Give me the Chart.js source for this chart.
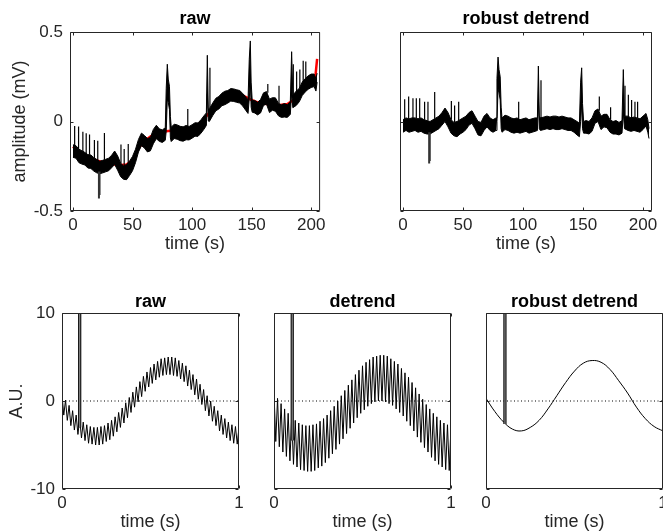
<!DOCTYPE html>
<html>
<head>
<meta charset="utf-8">
<title>raw vs robust detrend</title>
<script src="https://cdn.jsdelivr.net/npm/chart.js@4.4.1/dist/chart.umd.min.js"></script>
<style>
  html, body { margin: 0; padding: 0; background: #fff; overflow: hidden; }
  #fig { position: relative; width: 663px; height: 531px; overflow: hidden; }
  #fig canvas { position: absolute; }
</style>
</head>
<body>
<div id="fig">
  <canvas id="topRaw" width="330" height="258" style="left:0;top:0"></canvas>
  <canvas id="topRobust" width="333" height="258" style="left:330px;top:0"></canvas>
  <canvas id="auRaw" width="250" height="253" style="left:0;top:280px"></canvas>
  <canvas id="auDetrend" width="223" height="253" style="left:240px;top:280px"></canvas>
  <canvas id="auRobust" width="230" height="253" style="left:452px;top:280px"></canvas>
</div>
<script>
// ── Top row: recording, time in s, amplitude in mV ─────────────
var topT = [0, 2.5, 5, 7.5, 10, 12.5, 15, 17.5, 20, 22.5, 25, 27.5, 30, 32.5, 35, 37.5, 40, 42.5, 45, 47.5,
    50, 52.5, 55, 57.5, 60, 62.5, 65, 67.5, 70, 72.5, 75, 77.5, 78.3, 79.2, 80, 81, 81.8, 82.5, 85, 87.5,
    90, 92.5, 95, 97.5, 100, 102.5, 105, 107.5, 110, 112, 112.8, 113.6, 114.5, 117.5, 120, 122.5, 125, 127.5, 130, 132.5,
    135, 137.5, 140, 142.5, 145, 147, 148, 148.9, 149.6, 150.5, 152.5, 155, 157.5, 160, 162.5, 165, 167.5, 170, 172.5, 175,
    177.5, 180, 182.5, 183.6, 184.6, 187.5, 190, 192.5, 195, 197.5, 200, 202.5, 204, 205];

// upper / lower edge of the noisy band
var rawHi = [-0.13, -0.135, -0.155, -0.163, -0.173, -0.185, -0.187, -0.202, -0.212, -0.222, -0.217, -0.211, -0.205, -0.188, -0.165, -0.192, -0.233, -0.248, -0.24, -0.222,
    -0.195, -0.155, -0.1, -0.065, -0.078, -0.095, -0.089, -0.044, -0.021, -0.041, -0.047, -0.035, 0.186, 0.32, 0.237, 0.197, 0.028, -0.032, -0.015, -0.019,
    -0.027, -0.03, -0.022, -0.028, -0.018, -0.007, -0.008, 0.01, 0.032, 0.048, 0.37, 0.073, 0.07, 0.105, 0.13, 0.14, 0.158, 0.169, 0.173, 0.184,
    0.182, 0.177, 0.173, 0.157, 0.138, 0.12, 0.346, 0.45, 0.22, 0.117, 0.118, 0.107, 0.123, 0.16, 0.167, 0.125, 0.133, 0.132, 0.102, 0.093,
    0.1, 0.093, 0.11, 0.39, 0.147, 0.17, 0.185, 0.22, 0.24, 0.255, 0.265, 0.265, 0.24, 0.27];
var rawLo = [-0.2, -0.205, -0.23, -0.238, -0.243, -0.26, -0.262, -0.277, -0.287, -0.292, -0.287, -0.281, -0.275, -0.258, -0.24, -0.272, -0.308, -0.323, -0.325, -0.302,
    -0.275, -0.23, -0.17, -0.135, -0.148, -0.17, -0.164, -0.124, -0.096, -0.111, -0.117, -0.105, -0.054, 0.126, 0.107, 0.067, -0.092, -0.112, -0.095, -0.099,
    -0.107, -0.11, -0.102, -0.103, -0.093, -0.082, -0.083, -0.065, -0.043, -0.022, 0.155, 0.003, 0, 0.035, 0.06, 0.07, 0.088, 0.094, 0.103, 0.114,
    0.112, 0.107, 0.103, 0.087, 0.063, 0.045, 0.126, 0.222, 0.08, 0.052, 0.048, 0.037, 0.048, 0.09, 0.097, 0.05, 0.063, 0.057, 0.032, 0.023,
    0.025, 0.023, 0.04, 0.16, 0.077, 0.09, 0.11, 0.145, 0.165, 0.18, 0.19, 0.195, 0.17, 0.22];
var robustHi = [0.01, 0.02, 0.015, 0.02, 0.02, 0.015, 0.02, 0.01, 0.005, 0, 0.01, 0.02, 0.03, 0.05, 0.075, 0.05, 0.01, -0.005, 0, 0.01,
    0.02, 0.03, 0.05, 0.06, 0.03, 0, -0.005, 0.03, 0.045, 0.02, 0.01, 0.02, 0.24, 0.36, 0.29, 0.25, 0.08, 0.02, 0.035, 0.03,
    0.02, 0.015, 0.02, 0.01, 0.015, 0.02, 0.01, 0.015, 0.02, 0.02, 0.31, 0.03, 0.02, 0.025, 0.03, 0.025, 0.03, 0.03, 0.025, 0.03,
    0.025, 0.02, 0.02, 0.01, 0, -0.01, 0.22, 0.3, 0.1, 0, 0.005, 0, 0.02, 0.06, 0.07, 0.03, 0.04, 0.04, 0.01, 0,
    0.005, -0.005, 0.005, 0.29, 0.03, 0.03, 0.02, 0.025, 0.02, 0.015, 0.03, 0.045, 0.01, -0.04];
var robustLo = [-0.06, -0.05, -0.06, -0.055, -0.05, -0.06, -0.055, -0.065, -0.07, -0.07, -0.06, -0.05, -0.04, -0.02, 0, -0.03, -0.065, -0.08, -0.085, -0.07,
    -0.06, -0.045, -0.02, -0.01, -0.04, -0.075, -0.08, -0.05, -0.03, -0.05, -0.06, -0.05, 0, 0.18, 0.16, 0.12, -0.04, -0.06, -0.045, -0.05,
    -0.06, -0.065, -0.06, -0.065, -0.06, -0.055, -0.065, -0.06, -0.055, -0.05, 0.12, -0.04, -0.05, -0.045, -0.04, -0.045, -0.04, -0.045, -0.045, -0.04,
    -0.045, -0.05, -0.05, -0.06, -0.075, -0.085, 0, 0.1, -0.04, -0.065, -0.065, -0.07, -0.055, -0.01, 0, -0.045, -0.03, -0.035, -0.06, -0.07,
    -0.07, -0.075, -0.065, 0.05, -0.04, -0.05, -0.055, -0.05, -0.055, -0.06, -0.045, -0.025, -0.06, -0.095];

// fitted trend (red)
var trendT = [0, 5, 10, 15, 20, 25, 30, 35, 40, 45, 50, 55, 60, 65, 70, 75, 80, 85, 90, 95, 100,
    105, 110, 115, 120, 125, 130, 135, 140, 145, 150, 155, 160, 165, 170, 175, 180, 185, 190, 195, 200, 203, 205];
var trendV = [-0.14, -0.17, -0.193, -0.207, -0.217, -0.227, -0.235, -0.24, -0.243, -0.24, -0.215, -0.15, -0.108, -0.084, -0.066, -0.057, -0.053, -0.05, -0.047, -0.042, -0.033,
    -0.018, 0.012, 0.055, 0.1, 0.128, 0.148, 0.157, 0.153, 0.138, 0.12, 0.107, 0.1, 0.095, 0.092, 0.093, 0.098, 0.12, 0.165, 0.22, 0.235, 0.215, 0.35];

// narrow spikes riding on the band
var spikeT = [1.4, 4.7, 8.3, 11.1, 13.9, 18, 20.8, 26.4, 40.3, 43, 46.4, 96.4, 115, 163.6, 173, 185, 187.8, 190.5, 193.3, 195.5];
var rawSpikeBase = [-0.14, -0.155, -0.17, -0.18, -0.186, -0.205, -0.215, -0.214, -0.235, -0.248, -0.23, -0.028, 0.075, 0.16, 0.1, 0.15, 0.17, 0.185, 0.22, 0.24];
var rawSpikeTip = [-0.025, -0.028, -0.057, -0.066, -0.073, -0.103, -0.108, -0.064, -0.128, -0.153, -0.126, 0.07, 0.3, 0.21, 0.2, 0.32, 0.28, 0.29, 0.34, 0.335];
var robustSpikeBase = [0.01, 0.015, 0.02, 0.02, 0.02, 0.01, 0.005, 0.015, 0.01, -0.005, 0.005, 0.012, 0.02, 0.06, 0.01, 0.02, 0.03, 0.02, 0.025, 0.02];
var robustSpikeTip = [0.124, 0.14, 0.13, 0.13, 0.13, 0.11, 0.11, 0.165, 0.115, 0.09, 0.11, 0.11, 0.23, 0.14, 0.08, 0.2, 0.15, 0.12, 0.11, 0.11];
// the one downward glitch near 22 s
var dipT = [21.8, 22.3];
var rawDipBase = [-0.28, -0.28];
var rawDipTip = [-0.43, -0.41];
var robustDipBase = [-0.06, -0.06];
var robustDipTip = [-0.234, -0.22];

var topXTicks = [0, 50, 100, 150, 200];
var topYTicks = [-0.5, 0, 0.5];

// ── Bottom row: 1 s toy signal, A.U. ───────────────────────────
var sampleT = [0, 0.01, 0.02, 0.03, 0.04, 0.05, 0.06, 0.07, 0.08, 0.09, 0.1, 0.11, 0.12, 0.13, 0.14, 0.15, 0.16, 0.17, 0.18, 0.19,
    0.2, 0.21, 0.22, 0.23, 0.24, 0.25, 0.26, 0.27, 0.28, 0.29, 0.3, 0.31, 0.32, 0.33, 0.34, 0.35, 0.36, 0.37, 0.38, 0.39,
    0.4, 0.41, 0.42, 0.43, 0.44, 0.45, 0.46, 0.47, 0.48, 0.49, 0.5, 0.51, 0.52, 0.53, 0.54, 0.55, 0.56, 0.57, 0.58, 0.59,
    0.6, 0.61, 0.62, 0.63, 0.64, 0.65, 0.66, 0.67, 0.68, 0.69, 0.7, 0.71, 0.72, 0.73, 0.74, 0.75, 0.76, 0.77, 0.78, 0.79,
    0.8, 0.81, 0.82, 0.83, 0.84, 0.85, 0.86, 0.87, 0.88, 0.89, 0.9, 0.91, 0.92, 0.93, 0.94, 0.95, 0.96, 0.97, 0.98, 0.99, 1];
var rawAU = [0.7, -1.6, 0.1, -2.2, -0.5, -2.8, -1.1, -3.3, -1.6, -3.8, -2.0, -4.2, -2.4, -4.5, -2.7, -4.8, -2.9, -4.9, -3.0, -5.0,
    -3.0, -5.0, -2.9, -4.9, -2.8, -4.6, -2.5, -4.4, -2.2, -4.0, -1.8, -3.5, -1.3, -3.0, -0.8, -2.5, -0.2, -1.9, 0.4, -1.3,
    1.0, -0.7, 1.6, -0.1, 2.2, 0.5, 2.8, 1.1, 3.3, 1.6, 3.8, 2.0, 4.2, 2.4, 4.5, 2.7, 4.8, 2.9, 4.9, 3.0,
    5.0, 3.0, 5.0, 2.9, 4.9, 2.8, 4.6, 2.5, 4.3, 2.2, 4.0, 1.7, 3.5, 1.3, 3.0, 0.7, 2.5, 0.2, 1.9, -0.4,
    1.3, -1.1, 0.6, -1.7, 0.0, -2.3, -0.6, -2.8, -1.1, -3.4, -1.6, -3.8, -2.0, -4.2, -2.4, -4.5, -2.7, -4.8, -2.9, -4.9, -3.0];
var detrendAU = [0.9, -4.6, 0.3, -5.2, -0.3, -5.8, -0.9, -6.3, -1.4, -6.8, -1.8, -7.2, -2.2, -7.5, -2.5, -7.8, -2.7, -7.9, -2.8, -8.0,
    -2.8, -8.0, -2.7, -7.9, -2.6, -7.6, -2.3, -7.4, -2.0, -7.0, -1.6, -6.5, -1.1, -6.0, -0.6, -5.5, 0.0, -4.9, 0.6, -4.3,
    1.2, -3.7, 1.8, -3.1, 2.4, -2.5, 3.0, -1.9, 3.5, -1.4, 4.0, -1.0, 4.4, -0.6, 4.7, -0.3, 5.0, -0.1, 5.1, 0.0,
    5.2, 0.0, 5.2, -0.1, 5.1, -0.3, 4.8, -0.5, 4.5, -0.9, 4.2, -1.3, 3.7, -1.7, 3.2, -2.3, 2.7, -2.8, 2.1, -3.4,
    1.5, -4.1, 0.8, -4.7, 0.2, -5.3, -0.4, -5.8, -0.9, -6.4, -1.4, -6.8, -1.8, -7.2, -2.2, -7.5, -2.5, -7.8, -2.7, -7.9, -2.8];
var robustT = [0, 0.05, 0.1, 0.15, 0.2, 0.25, 0.3, 0.35, 0.4, 0.45, 0.5, 0.55, 0.6, 0.65, 0.7, 0.75, 0.8, 0.85, 0.9, 0.95, 1];
var robustAU = [0.3, -1.2, -2.4, -3.2, -3.4, -3.0, -2.2, -0.9, 0.6, 2.1, 3.4, 4.3, 4.6, 4.4, 3.6, 2.3, 0.9, -0.7, -2.0, -2.9, -3.4];
// glitch per panel: raw, detrend, robust detrend
var glitchT = [0.1, 0.103, 0.107];
var glitchBase = [-3.0, -4.5, -2.6];
var glitchPeak = 40;
var zeroT = [0, 1];
var zeroV = [0, 0];

var auXTicks = [0, 1];
var auYTicks = [-10, 0, 10];

// ── helpers ───────────────────────────────────────────────────
var FONT = "'Liberation Sans', Arial, Helvetica, sans-serif";
var INK = '#262626';
var TICK_LEN = 3;

function zip(xs, ys) {
    return xs.map(function (x, i) { return { x: x, y: ys[i] }; });
}

// vertical strokes base -> tip, broken by gaps
function strokes(ts, bases, tips) {
    var pts = [];
    ts.forEach(function (t, i) {
        pts.push({ x: t, y: bases[i] }, { x: t, y: tips[i] }, { x: t, y: null });
    });
    return pts;
}

function line(points, color, width, extra) {
    var ds = { data: points, borderColor: color, borderWidth: width, pointRadius: 0, fill: false, clip: 0, tension: 0 };
    for (var k in (extra || {})) ds[k] = extra[k];
    return ds;
}

// MATLAB-style box with inward tick marks
var matlabAxes = {
    id: 'matlabAxes',
    afterDatasetsDraw: function (chart) {
        var ctx = chart.ctx, a = chart.chartArea;
        var xs = chart.scales.x, ys = chart.scales.y;
        var L = a.left + 0.5, R = a.right - 0.5, T = a.top + 0.5, B = a.bottom - 0.5;
        ctx.save();
        ctx.strokeStyle = INK;
        ctx.lineWidth = 1;
        ctx.beginPath();
        ctx.rect(L, T, R - L, B - T);
        xs.ticks.forEach(function (tk) {
            var px = Math.round(xs.getPixelForValue(tk.value)) + 0.5;
            ctx.moveTo(px, B); ctx.lineTo(px, B - TICK_LEN);
            ctx.moveTo(px, T); ctx.lineTo(px, T + TICK_LEN);
        });
        ys.ticks.forEach(function (tk) {
            var py = Math.round(ys.getPixelForValue(tk.value)) + 0.5;
            ctx.moveTo(L, py); ctx.lineTo(L + TICK_LEN, py);
            ctx.moveTo(R, py); ctx.lineTo(R - TICK_LEN, py);
        });
        ctx.stroke();
        ctx.restore();
    }
};

function panel(canvasId, p) {
    return new Chart(document.getElementById(canvasId), {
        type: 'line',
        data: { datasets: p.datasets },
        options: {
            responsive: false,
            animation: false,
            devicePixelRatio: 1,
            events: [],
            layout: { padding: p.padding },
            plugins: {
                legend: { display: false },
                tooltip: { enabled: false },
                title: {
                    display: true, text: p.title, fullSize: false, color: '#000',
                    font: { family: FONT, size: 18, weight: 'bold' },
                    padding: { top: 0, bottom: p.titleGap }
                }
            },
            scales: {
                x: {
                    type: 'linear', min: p.xMin, max: p.xMax,
                    grid: { display: false, drawTicks: false }, border: { display: false },
                    ticks: { color: INK, font: { family: FONT, size: 17 }, padding: 4.3, maxRotation: 0, autoSkip: false },
                    afterBuildTicks: function (s) { s.ticks = p.xTicks.map(function (v) { return { value: v }; }); },
                    afterFit: function (s) { s.height = p.xHeight; },
                    title: {
                        display: true, text: 'time (s)', color: INK,
                        font: { family: FONT, size: 18 }, padding: { top: 0, bottom: p.xTitlePad }
                    }
                },
                y: {
                    type: 'linear', min: p.yMin, max: p.yMax,
                    grid: { display: false, drawTicks: false }, border: { display: false },
                    ticks: { display: !!p.yLabel, color: INK, font: { family: FONT, size: 17 }, padding: 7, autoSkip: false },
                    afterBuildTicks: function (s) { s.ticks = p.yTicks.map(function (v) { return { value: v }; }); },
                    afterFit: function (s) { s.width = p.yWidth; },
                    title: {
                        display: !!p.yLabel, text: p.yLabel || '', color: INK,
                        font: { family: FONT, size: 18 }, padding: { top: p.yTitlePad, bottom: 0 }
                    }
                }
            }
        },
        plugins: [matlabAxes]
    });
}

// ── top row ───────────────────────────────────────────────────
var topCommon = {
    xMin: -2.5, xMax: 207.5, yMin: -0.5, yMax: 0.5,
    xTicks: topXTicks, yTicks: topYTicks,
    xHeight: 47, xTitlePad: 3.2, yWidth: 70, yTitlePad: 9.2, titleGap: 1.7
};

panel('topRaw', Object.assign({}, topCommon, {
    title: 'raw',
    yLabel: 'amplitude (mV)',
    padding: { top: 8.7, right: 8, bottom: 0, left: 0 },
    datasets: [
        line(strokes(spikeT, rawSpikeBase, rawSpikeTip), '#000', 1.2),
        line(strokes(dipT, rawDipBase, rawDipTip), '#333', 2),
        line(zip(topT, rawHi), '#000', 1, { fill: '+1', backgroundColor: '#000' }),
        line(zip(topT, rawLo), '#000', 1),
        line(zip(trendT, trendV), '#ff0000', 2.5)
    ]
}));

panel('topRobust', Object.assign({}, topCommon, {
    title: 'robust detrend',
    padding: { top: 8.7, right: 11, bottom: 0, left: 0 },
    datasets: [
        line(strokes(spikeT, robustSpikeBase, robustSpikeTip), '#000', 1.2),
        line(strokes(dipT, robustDipBase, robustDipTip), '#333', 2),
        line(zip(topT, robustHi), '#000', 1, { fill: '+1', backgroundColor: '#000' }),
        line(zip(topT, robustLo), '#000', 1)
    ]
}));

// ── bottom row ────────────────────────────────────────────────
var auCommon = {
    xMin: 0, xMax: 1, yMin: -10, yMax: 10,
    xTicks: auXTicks, yTicks: auYTicks,
    xHeight: 44, xTitlePad: 0.2, yTitlePad: 6.2, titleGap: 0.2
};

function glitch(i) {
    var pts = [{ x: glitchT[i], y: glitchBase[i] }, { x: glitchT[i], y: glitchPeak }];
    return [line(pts, '#8a8a8a', 1.2), line(pts, '#000', 3.2)];
}
function zeroLine() {
    return line(zip(zeroT, zeroV), '#000', 1, { borderDash: [1, 2.5] });
}

panel('auRaw', Object.assign({}, auCommon, {
    title: 'raw', yLabel: 'A.U.', yWidth: 62,
    padding: { top: 11.2, right: 11, bottom: 0, left: 0 },
    datasets: glitch(0).concat([zeroLine(), line(zip(sampleT, rawAU), '#000', 1)])
}));

panel('auDetrend', Object.assign({}, auCommon, {
    title: 'detrend', yWidth: 34,
    padding: { top: 11.2, right: 12, bottom: 0, left: 0 },
    datasets: glitch(1).concat([zeroLine(), line(zip(sampleT, detrendAU), '#000', 1)])
}));

panel('auRobust', Object.assign({}, auCommon, {
    title: 'robust detrend', yWidth: 34,
    padding: { top: 11.2, right: 19, bottom: 0, left: 0 },
    datasets: glitch(2).concat([zeroLine(), line(zip(robustT, robustAU), '#000', 1, { tension: 0.4 })])
}));
</script>
</body>
</html>
